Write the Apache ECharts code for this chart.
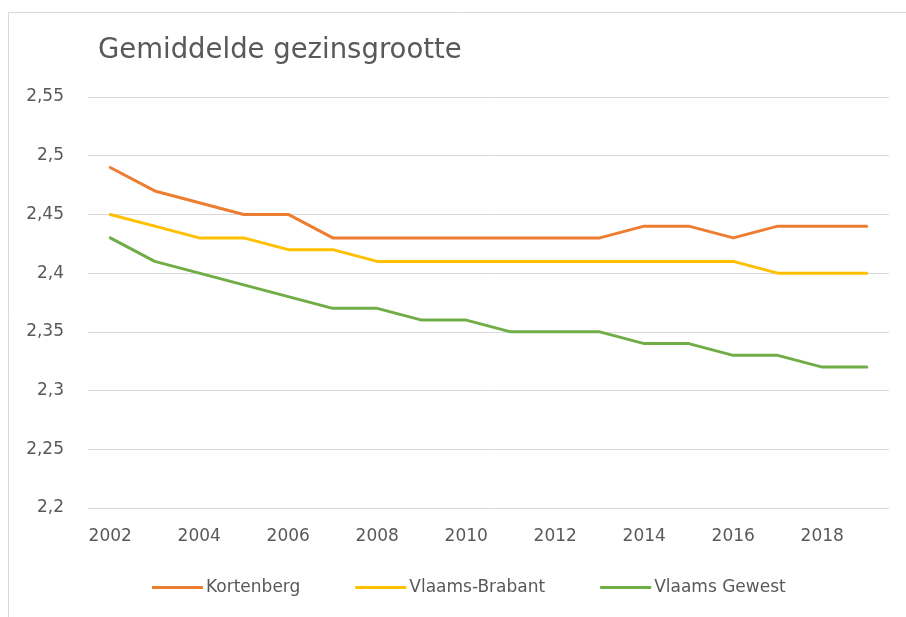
<!DOCTYPE html>
<html>
<head>
<meta charset="utf-8">
<script src="https://cdn.jsdelivr.net/npm/echarts@6/dist/echarts.min.js"></script>
<style>
html, body { margin: 0; padding: 0; background: #fff; }
#chart { width: 906px; height: 617px; }
</style>
</head>
<body>
<div id="chart"></div>
<script>
var years = ['2002','2003','2004','2005','2006','2007','2008','2009','2010','2011','2012','2013','2014','2015','2016','2017','2018','2019'];
var kortenberg = [2.49,2.47,2.46,2.45,2.45,2.43,2.43,2.43,2.43,2.43,2.43,2.43,2.44,2.44,2.43,2.44,2.44,2.44];
var vlaamsBrabant = [2.45,2.44,2.43,2.43,2.42,2.42,2.41,2.41,2.41,2.41,2.41,2.41,2.41,2.41,2.41,2.40,2.40,2.40];
var vlaamsGewest = [2.43,2.41,2.40,2.39,2.38,2.37,2.37,2.36,2.36,2.35,2.35,2.35,2.34,2.34,2.33,2.33,2.32,2.32];

var font = 'DejaVu Sans';
var myChart = echarts.init(document.getElementById('chart'));

function serie(name, data, color) {
	return {
		name : name,
		type : 'line',
		data : data,
		symbol : 'none',
		lineStyle : { width : 3, color : color, cap : 'round', join : 'round' },
		itemStyle : { color : color }
	};
}

var options = {
	animation : false,
	graphic : [{
		type : 'rect',
		shape : { x : 8.5, y : 12.5, width : 1000, height : 1000 },
		style : { fill : 'none', stroke : '#d9d9d9', lineWidth : 1 }
	}],
	title : {
		text : 'Gemiddelde gezinsgrootte',
		left : 93,
		top : 32,
		textStyle : { fontFamily : font, fontSize : 27.5, fontWeight : 'normal', color : '#595959' }
	},
	legend : {
		bottom : 16,
		left : 147,
		itemWidth : 51,
		itemHeight : 3,
		itemGap : 55,
		icon : 'rect',
		textStyle : { fontFamily : font, fontSize : 17, color : '#595959', padding : [0, 0, 0, -2] },
		data : ['Kortenberg', 'Vlaams-Brabant', 'Vlaams Gewest']
	},
	grid : { left : 88, right : 17, top : 97, bottom : 109 },
	xAxis : {
		type : 'category',
		boundaryGap : true,
		data : years,
		axisLine : { show : false },
		axisTick : { show : false },
		axisLabel : {
			interval : 1,
			margin : 20,
			fontFamily : font, fontSize : 17, color : '#595959'
		}
	},
	yAxis : {
		type : 'value',
		min : 2.2,
		max : 2.55,
		interval : 0.05,
		axisLabel : {
			margin : 24,
			fontFamily : font, fontSize : 17, color : '#595959',
			formatter : function (v) { return String(Math.round(v * 100) / 100).replace('.', ','); }
		},
		splitLine : { lineStyle : { color : '#d9d9d9', width : 1 } }
	},
	series : [
		serie('Kortenberg', kortenberg, '#ED7D31'),
		serie('Vlaams-Brabant', vlaamsBrabant, '#FFC000'),
		serie('Vlaams Gewest', vlaamsGewest, '#70AD47')
	]
};
myChart.setOption(options);
</script>
</body>
</html>
